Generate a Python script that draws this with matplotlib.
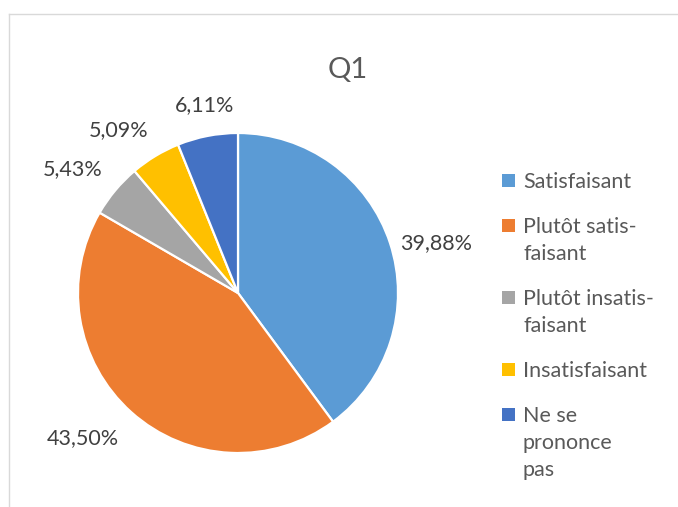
import numpy as np
import matplotlib
matplotlib.use("Agg")
import matplotlib.pyplot as plt
from matplotlib.patches import Rectangle
from matplotlib.lines import Line2D

plt.rcParams['font.family'] = ['Lato', 'DejaVu Sans']

# data
categories = ["Satisfaisant", "Plutôt satis-\nfaisant", "Plutôt insatis-\nfaisant",
              "Insatisfaisant", "Ne se\nprononce\npas"]
values = [39.88, 43.50, 5.43, 5.09, 6.11]
colors = ["#5B9BD5", "#ED7D31", "#A5A5A5", "#FFC000", "#4472C4"]
label_dist = [1.28, 1.33, 1.29, 1.26, 1.19]
label_shift = [-4, -5, 3, 5, -1]   # degrees, excel "best fit" offsets

W, H = 678, 507
fig = plt.figure(figsize=(W / 100, H / 100), dpi=100)

# chart area border (left and top only visible)
fig.add_artist(Line2D([8.5 / W, 8.5 / W], [0, 1 - 13.5 / H], color="#d9d9d9", lw=1,
                      transform=fig.transFigure))
fig.add_artist(Line2D([8.5 / W, 1], [1 - 13.5 / H, 1 - 13.5 / H], color="#d9d9d9", lw=1,
                      transform=fig.transFigure))

# pie, centred at (238, 293) px, radius 160 px
cx, cy, r = 238, 293, 160
ax = fig.add_axes([(cx - r) / W, (H - cy - r) / H, 2 * r / W, 2 * r / H])
wedges, _ = ax.pie(values, colors=colors, startangle=90, counterclock=False,
                   wedgeprops=dict(edgecolor="white", linewidth=1.6))
ax.set_xlim(-1, 1)
ax.set_ylim(-1, 1)
ax.axis("off")

for w, v, d, s in zip(wedges, values, label_dist, label_shift):
    ang = np.deg2rad((w.theta1 + w.theta2) / 2 + s)
    ax.text(d * np.cos(ang), d * np.sin(ang), f"{v:.2f}%".replace(".", ","),
            ha="center", va="center", fontsize=15.5, color="#404040", clip_on=False)

fig.text(348 / W, 1 - 70 / H, "Q1", ha="center", va="center", fontsize=21, color="#595959")

# legend drawn by hand: marker sits on the first line of each entry
line_h, gap = 27, 45
y = 180
for name, c in zip(categories, colors):
    fig.add_artist(Rectangle(((502) / W, 1 - (y + 6.5) / H), 13 / W, 13 / H,
                             facecolor=c, edgecolor="none", transform=fig.transFigure))
    for k, line in enumerate(name.split("\n")):
        fig.text(523 / W, 1 - (y + k * line_h) / H, line, ha="left", va="center_baseline",
                 fontsize=15.5, color="#595959")
    y += (name.count("\n")) * line_h + gap

fig.savefig("out.png", dpi=100)
